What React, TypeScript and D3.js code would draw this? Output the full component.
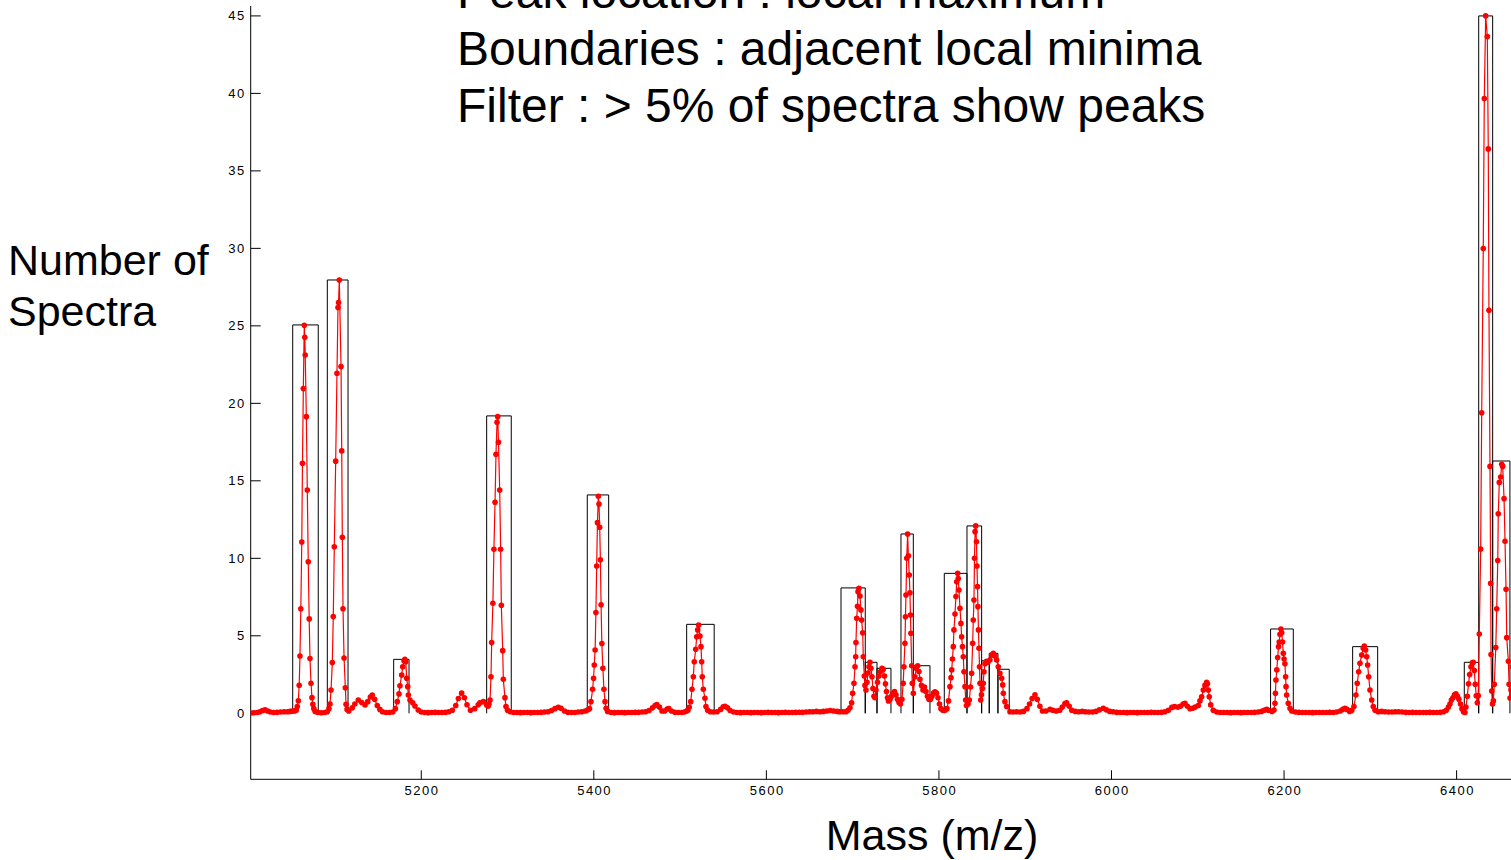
import React from 'react';
import * as d3 from 'd3';

const titleLines = [
  'Peak location : local maximum',
  'Boundaries : adjacent local minima',
  'Filter : > 5% of spectra show peaks',
];
const yLabelLines = ['Number of', 'Spectra'];
const xLabel = 'Mass (m/z)';

const xTicks = [5200, 5400, 5600, 5800, 6000, 6200, 6400];
const yTicks = [0, 5, 10, 15, 20, 25, 30, 35, 40, 45];

// peak boxes: boundaries (adjacent local minima) and peak height
const boxStart = [5051.0, 5091.1, 5168.0, 5275.8, 5392.4, 5507.6, 5686.5, 5714.6, 5728.2, 5756.0, 5770.3, 5806.2, 5832.5, 5849.5, 5858.3, 5868.4, 6184.4, 6279.5, 6408.9, 6425.6, 6441.8];
const boxEnd = [5080.6, 5115.1, 5185.8, 5304.3, 5417.2, 5539.5, 5714.6, 5728.2, 5744.4, 5770.3, 5789.6, 5832.5, 5849.5, 5858.3, 5868.4, 5881.5, 6210.7, 6308.5, 6425.6, 6441.8, 6461.8];
const boxHeight = [25.06, 27.96, 3.48, 19.19, 14.09, 5.74, 8.09, 3.29, 2.9, 11.57, 3.07, 9.03, 12.09, 3.39, 3.87, 2.84, 5.44, 4.3, 3.29, 45, 16.28];

// number of spectra showing a peak at each mass
const spectrum: [number, number][] = [
  [5002.6, 0.02], [5006, 0.03], [5010, 0.05], [5013, 0.1], [5016, 0.18], [5019, 0.22], [5022, 0.15], [5025, 0.08], [5029, 0.05], [5033, 0.06], [5037, 0.08], [5041, 0.1], [5045, 0.1], [5048, 0.12], [5051, 0.15], [5053, 0.15],
  [5055, 0.2], [5056.3, 0.43], [5057.5, 0.81], [5058.5, 1.81], [5059.4, 3.7], [5060.4, 6.75], [5061.5, 11.05], [5062.3, 16.13], [5063.3, 20.95], [5064.4, 25.04], [5065, 24.26], [5065.5, 23.12], [5066.8, 19.14], [5067.9, 14.41], [5069, 9.78], [5070.1, 6.09], [5071, 3.53], [5072.2, 1.94], [5073.3, 1.01], [5074.3, 0.58], [5075.5, 0.3], [5077, 0.12], [5080, 0.05], [5084, 0.03], [5088, 0.05], [5091, 0.1],
  [5093, 0.3], [5094.2, 0.6], [5095.4, 1.5], [5096.9, 3.27], [5098, 6.24], [5099.2, 10.75], [5100.8, 16.27], [5102.3, 21.94], [5103.5, 26.18], [5104.1, 26.5], [5105, 27.96], [5107, 22.37], [5107.8, 16.93], [5108.5, 11.36], [5109.3, 6.75], [5110.5, 3.57], [5112, 1.65], [5112.8, 0.58], [5114, 0.25], [5116, 0.15],
  [5120, 0.35], [5123, 0.6], [5127, 0.86], [5131, 0.7], [5134.8, 0.54], [5138, 0.75], [5141, 1.05], [5143.2, 1.18], [5146, 0.9], [5149, 0.5], [5152, 0.25], [5155, 0.1], [5159, 0.05], [5163, 0.05], [5167, 0.08], [5170, 0.3],
  [5172.2, 0.75], [5174.2, 1.25], [5175.3, 1.78], [5177.3, 2.47], [5178.5, 3.0], [5180, 3.39], [5181, 3.48], [5182, 3.33], [5183.1, 2.26], [5184.3, 1.72], [5185, 1.18], [5186.9, 0.86], [5190.1, 0.68], [5192.7, 0.47], [5196.5, 0.21], [5200, 0.08],
  [5204, 0.05], [5208, 0.04], [5212, 0.05], [5216, 0.06], [5220, 0.05], [5224, 0.05], [5228, 0.06], [5232, 0.1], [5236, 0.2], [5240, 0.5], [5243, 0.95], [5246.8, 1.3], [5250, 1.0], [5253, 0.55], [5257, 0.2], [5262, 0.3], [5266, 0.55], [5268, 0.68], [5272, 0.75], [5275.8, 0.54], [5277.5, 0.45],
  [5278.5, 0.6], [5279.7, 0.86], [5280.8, 2.36], [5281.6, 4.56], [5283, 7.1], [5284.2, 10.58], [5285.5, 13.62], [5286.6, 16.71], [5287.8, 18.78], [5288.6, 19.14], [5289.5, 17.49], [5290.9, 14.41], [5292, 10.58], [5292.8, 6.97], [5294.4, 4.04], [5295.1, 2.19], [5297, 1.01], [5298.2, 0.43], [5300, 0.2], [5303, 0.1],
  [5307, 0.05], [5311, 0.05], [5315, 0.04], [5319, 0.05], [5323, 0.05], [5327, 0.04], [5331, 0.05], [5335, 0.05], [5339, 0.06], [5343, 0.08], [5347, 0.1], [5351, 0.18], [5355, 0.3], [5358.8, 0.39], [5362, 0.32], [5366, 0.15], [5370, 0.06], [5374, 0.05], [5378, 0.05], [5382, 0.08], [5386, 0.1], [5390, 0.15], [5393, 0.22],
  [5395, 0.3], [5396.7, 0.75], [5398.6, 1.55], [5399.7, 2.26], [5400.5, 3.12], [5401.5, 4.08], [5402.4, 6.5], [5403.3, 9.5], [5404.2, 12.3], [5405.2, 14.0], [5406, 13.5], [5406.8, 12.0], [5407.6, 9.9], [5408.4, 7.0], [5409.3, 4.5], [5410.5, 2.9], [5411.7, 1.55], [5413, 0.75], [5414.2, 0.32], [5416, 0.12],
  [5420, 0.05], [5424, 0.04], [5428, 0.05], [5432, 0.05], [5436, 0.04], [5440, 0.05], [5444, 0.05], [5448, 0.06], [5452, 0.06], [5456, 0.08], [5460, 0.1], [5464, 0.18], [5468, 0.35], [5471, 0.5], [5473, 0.56], [5476, 0.4], [5479, 0.15], [5482, 0.15], [5485, 0.28], [5487, 0.3], [5490, 0.15], [5494, 0.06], [5498, 0.05], [5502, 0.05], [5505, 0.08], [5507.5, 0.15],
  [5509, 0.2], [5510.6, 0.39], [5512.3, 0.75], [5513.8, 1.55], [5515.3, 2.36], [5516.4, 3.33], [5518.1, 4.13], [5519.2, 4.94], [5520.4, 5.38], [5521.5, 5.7], [5523, 4.99], [5524.2, 4.3], [5525, 3.33], [5525.7, 2.36], [5526.9, 1.55], [5528.8, 0.97], [5530, 0.43], [5532, 0.2],
  [5535, 0.1], [5539, 0.08], [5543, 0.1], [5547, 0.25], [5550, 0.42], [5552, 0.45], [5555, 0.35], [5558, 0.18], [5562, 0.08], [5566, 0.05], [5570, 0.04], [5574, 0.05], [5578, 0.05], [5582, 0.04], [5586, 0.05], [5590, 0.05], [5594, 0.04], [5598, 0.05], [5602, 0.06], [5606, 0.05], [5610, 0.05], [5614, 0.04], [5618, 0.05], [5622, 0.06], [5626, 0.05], [5630, 0.05], [5634, 0.06], [5638, 0.07], [5642, 0.06], [5646, 0.08], [5650, 0.1], [5654, 0.1], [5658, 0.12], [5662, 0.1], [5666, 0.12], [5670, 0.15], [5674, 0.18], [5678, 0.15], [5682, 0.12], [5685, 0.1],
  [5688.8, 0.1], [5692.3, 0.1], [5694.6, 0.2], [5696.9, 0.36], [5698.8, 0.68], [5700, 1.29], [5701.5, 1.94], [5702.7, 3.0], [5703.5, 3.65], [5703.8, 4.56], [5704.7, 6.13], [5705.6, 6.9], [5706.2, 7.85], [5707.3, 8.07], [5708.5, 7.57], [5709.6, 6.67], [5710.4, 6.02], [5711.6, 5.2], [5712.3, 3.65], [5713.5, 2.41], [5714.3, 1.8],
  [5715.4, 1.5], [5716.6, 2.0], [5717.8, 2.6], [5718.9, 3.0], [5720.1, 3.29], [5721.2, 2.9], [5722.4, 2.36], [5723.5, 1.6], [5724.7, 1.1], [5725.9, 1.0], [5727, 1.5], [5728.8, 2.0], [5730.5, 2.4], [5732.3, 2.7], [5734, 2.9], [5735.5, 2.84], [5736.9, 2.4], [5738, 1.9], [5739.2, 1.4], [5740.4, 1.0], [5741.5, 0.8], [5743.3, 0.9], [5745, 1.1], [5746.8, 1.3], [5748.5, 1.4], [5750.2, 1.2], [5751.9, 0.9], [5753.7, 0.7], [5755.4, 0.6],
  [5757.1, 0.9], [5758.6, 1.94], [5759.4, 3.0], [5760.6, 4.52], [5761.2, 6.23], [5761.8, 7.63], [5762.7, 10.0], [5763.7, 11.57], [5764.6, 10.17], [5765.6, 8.92], [5766.4, 7.78], [5767, 6.34], [5767.5, 5.16], [5768.4, 3.07], [5769.1, 1.94], [5770.3, 1.29],
  [5772.2, 2.36], [5773.7, 2.9], [5775.4, 3.07], [5776.8, 2.7], [5778, 2.2], [5779.7, 1.8], [5781.5, 1.5], [5783.2, 1.7], [5785, 1.4], [5786.7, 1.1], [5788.4, 0.9], [5790.2, 0.9], [5791.9, 1.1], [5793.7, 1.3], [5795.4, 1.39], [5797.1, 1.3], [5798.9, 1.0], [5800.6, 0.6], [5802.3, 0.3], [5804.6, 0.2], [5807, 0.2], [5809.3, 0.3],
  [5811.1, 0.8], [5812.8, 1.72], [5814, 2.3], [5814.8, 2.8], [5815.7, 3.5], [5816.6, 4.3], [5817.4, 5.38], [5818.6, 6.4], [5819.7, 7.53], [5820.6, 8.49], [5821.7, 9.03], [5822.4, 8.7], [5823.2, 7.96], [5824.4, 6.78], [5825.5, 5.8], [5826.3, 4.94], [5827.3, 4.3], [5828.2, 3.65], [5829, 2.68], [5830.2, 1.72], [5831, 0.86], [5831.9, 0.5],
  [5833.7, 0.6], [5835.2, 0.86], [5836.6, 1.7], [5837.9, 2.58], [5839.1, 4.52], [5839.8, 6.02], [5840.6, 7.31], [5841.2, 10.0], [5841.9, 11.72], [5842.6, 12.09], [5843.5, 11.07], [5844.1, 9.5], [5844.7, 8.17], [5845.2, 6.88], [5845.8, 5.38], [5846.4, 4.2], [5847, 3.0], [5847.6, 1.94], [5848.4, 0.86],
  [5849.3, 1.2], [5850.5, 1.6], [5851.4, 1.94], [5852.2, 2.68], [5853.4, 3.2], [5855.1, 3.35], [5856.8, 3.3], [5859.1, 3.44], [5861.1, 3.76], [5863, 3.87], [5864.9, 3.7], [5866.9, 3.44], [5868.8, 3.0], [5870.7, 2.58], [5872.7, 2.26], [5873.9, 1.83], [5874.6, 1.29], [5876.5, 0.75], [5878.5, 0.43], [5882.3, 0.1],
  [5886, 0.08], [5890, 0.1], [5894, 0.08], [5898, 0.12], [5902, 0.3], [5905, 0.6], [5908, 0.95], [5911.3, 1.2], [5914, 0.9], [5917, 0.45], [5920, 0.15], [5924, 0.15], [5928.7, 0.25], [5932, 0.2], [5936, 0.15], [5940, 0.2], [5943, 0.4], [5946, 0.62], [5948, 0.68], [5951, 0.45], [5954, 0.2], [5958, 0.12], [5962, 0.1], [5966, 0.12], [5970, 0.1], [5974, 0.08], [5978, 0.08], [5982, 0.12], [5986, 0.22], [5990.5, 0.32], [5994, 0.22], [5998, 0.12], [6002, 0.1], [6006, 0.06],
  [6010, 0.05], [6014, 0.05], [6018, 0.04], [6022, 0.05], [6026, 0.05], [6030, 0.04], [6034, 0.05], [6038, 0.05], [6042, 0.05], [6046, 0.06], [6050, 0.05], [6054, 0.05], [6058, 0.06], [6062, 0.1], [6066, 0.2], [6070, 0.38], [6073, 0.43], [6077, 0.4], [6080, 0.45], [6083, 0.6], [6085.2, 0.65], [6088, 0.45], [6091, 0.3], [6094, 0.32], [6097, 0.4], [6100.6, 0.5],
  [6102.5, 0.8], [6104.5, 1.07], [6106.4, 1.5], [6108.3, 1.8], [6110.3, 2.0], [6111.2, 1.9], [6112.2, 1.5], [6113.3, 1.07], [6115, 0.54], [6118, 0.2],
  [6122, 0.08], [6126, 0.05], [6130, 0.05], [6134, 0.05], [6138, 0.04], [6142, 0.05], [6146, 0.05], [6150, 0.04], [6154, 0.05], [6158, 0.05], [6162, 0.05], [6166, 0.06], [6170, 0.08], [6174, 0.12], [6177, 0.2], [6179.8, 0.25], [6182, 0.2], [6186, 0.12],
  [6188.3, 0.21], [6189.5, 0.65], [6190, 1.29], [6190.6, 2.15], [6191.6, 2.8], [6192.6, 3.6], [6193.6, 4.3], [6194.4, 4.6], [6195.3, 5.1], [6196.4, 5.44], [6197.3, 5.2], [6198.2, 4.6], [6199.1, 3.87], [6200, 3.5], [6201, 3.2], [6201.8, 2.36], [6202.3, 1.72], [6203, 1.18], [6204.9, 0.65], [6206.9, 0.32], [6209, 0.15],
  [6213, 0.08], [6217, 0.06], [6221, 0.05], [6225, 0.05], [6229, 0.05], [6233, 0.04], [6237, 0.05], [6241, 0.05], [6245, 0.05], [6249, 0.05], [6253, 0.06], [6257, 0.05], [6261, 0.08], [6265, 0.15], [6268, 0.25], [6270.6, 0.32], [6273, 0.25], [6276, 0.12], [6278.5, 0.2],
  [6281, 0.43], [6283.3, 1.18], [6284.8, 1.94], [6286.5, 2.68], [6288, 3.23], [6290, 3.76], [6291.8, 4.19], [6293, 4.34], [6294.6, 4.08], [6295.8, 3.65], [6296.9, 3.12], [6298.1, 2.36], [6299.6, 1.5], [6301.6, 0.86], [6303.4, 0.43], [6305.5, 0.2],
  [6309, 0.1], [6313, 0.12], [6317, 0.1], [6321, 0.08], [6325, 0.08], [6329, 0.1], [6333, 0.1], [6337, 0.08], [6341, 0.06], [6345, 0.05], [6349, 0.06], [6353, 0.05], [6357, 0.05], [6361, 0.05], [6365, 0.05], [6369, 0.06], [6373, 0.05], [6377, 0.05], [6381, 0.06], [6385, 0.1], [6388, 0.2],
  [6390.5, 0.4], [6392.3, 0.6], [6394, 0.85], [6395.8, 1.0], [6397.5, 1.2], [6399.2, 1.25], [6401, 1.1], [6402.7, 0.9], [6404.5, 0.6], [6406.2, 0.3], [6408, 0.1], [6409.7, 0.05],
  [6410.8, 0.4], [6412.4, 1.1], [6413.8, 1.9], [6415.1, 2.5], [6416.6, 3.0], [6418.2, 3.26], [6419.3, 3.29], [6420.5, 2.76], [6421.6, 1.87], [6422.8, 1.13], [6424, 0.68], [6425.1, 1.13],
  [6426.3, 5.12], [6427.9, 10.6], [6429.1, 19.39], [6430.9, 29.99], [6432.1, 39.67], [6433.7, 45], [6435.6, 43.67], [6436.7, 36.42], [6437.5, 26.0], [6438.7, 15.93], [6439.5, 8.38], [6439.9, 3.79], [6440.7, 1.43], [6441.6, 0.6],
  [6442.6, 0.8], [6443.7, 1.87], [6445.4, 4.24], [6446.5, 6.75], [6447.7, 9.86], [6448.3, 12.88], [6449.5, 14.9], [6451.1, 15.25], [6452.3, 16.07], [6453.4, 15.93], [6455, 13.85], [6456.1, 11.1], [6457.3, 8.0], [6458.1, 4.88], [6460, 3.35], [6460.8, 1.87], [6461.9, 0.99], [6463, 1.5], [6465, 3.0],
];

const W = 1511;
const H = 860;
const FONT = '"Liberation Sans", Arial, Helvetica, sans-serif';

export default function App() {
  const x = d3.scaleLinear().domain([5002.3, 6470]).range([250.7, 1517.0]);
  const y = d3.scaleLinear().domain([-4.26, 45.64]).range([779.3, 6]);
  const x0 = x.range()[0];
  const yBottom = y.range()[0];
  const yTop = y.range()[1];

  const line = d3
    .line<[number, number]>()
    .x((d) => x(d[0]))
    .y((d) => y(d[1]));

  const boxes = boxStart.map((s, i) => {
    const xa = x(s);
    const xb = x(boxEnd[i]);
    const yb = y(0);
    const yt = y(boxHeight[i]);
    return `M${xa},${yb}V${yt}H${xb}V${yb}`;
  });

  return (
    <svg
      width={W}
      height={H}
      style={{ position: 'absolute', left: 0, top: 0, background: '#fff' }}
      fontFamily={FONT}
    >
      <defs>
        <clipPath id="plotClip">
          <rect x={x0} y={0} width={W - x0} height={yBottom} />
        </clipPath>
      </defs>
      <rect x={0} y={0} width={W} height={H} fill="#fff" />

      {/* axes */}
      <line x1={x0} x2={x0} y1={yTop} y2={yBottom} stroke="#000" strokeWidth={1} />
      <line x1={x0} x2={W} y1={yBottom} y2={yBottom} stroke="#000" strokeWidth={1} />
      {yTicks.map((t) => (
        <g key={'y' + t}>
          <line x1={x0} x2={x0 + 10} y1={y(t)} y2={y(t)} stroke="#000" strokeWidth={1} />
          <text
            x={x0 - 6.4 + 1.5}
            y={y(t) + 4.5}
            textAnchor="end"
            fontSize={13}
            letterSpacing={1.5}
            fill="#000"
          >
            {t}
          </text>
        </g>
      ))}
      {xTicks.map((t) => (
        <g key={'x' + t}>
          <line x1={x(t)} x2={x(t)} y1={yBottom} y2={yBottom - 9} stroke="#000" strokeWidth={1} />
          <text
            x={x(t) + 0.8}
            y={yBottom + 16}
            textAnchor="middle"
            fontSize={13}
            letterSpacing={1.5}
            fill="#000"
          >
            {t}
          </text>
        </g>
      ))}

      <g clipPath="url(#plotClip)">
        {boxes.map((d, i) => (
          <path key={'b' + i} d={d} fill="none" stroke="#000" strokeWidth={1} />
        ))}
        <path d={line(spectrum) || ''} fill="none" stroke="#ff0000" strokeWidth={1.2} />
        {spectrum.map((d, i) => (
          <circle key={'p' + i} cx={x(d[0])} cy={y(d[1])} r={2.8} fill="#ff0000" />
        ))}
      </g>

      {titleLines.map((t, i) => (
        <text key={'t' + i} x={457} y={7.5 + i * 57.3} fontSize={48} fill="#000">
          {t}
        </text>
      ))}
      {yLabelLines.map((t, i) => (
        <text key={'yl' + i} x={8} y={275 + i * 51} fontSize={43} fill="#000">
          {t}
        </text>
      ))}
      <text x={932} y={850} textAnchor="middle" fontSize={43} fill="#000">
        {xLabel}
      </text>
    </svg>
  );
}
